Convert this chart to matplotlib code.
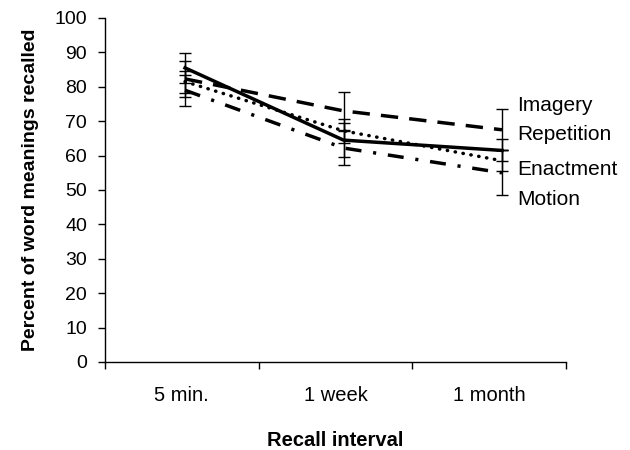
import matplotlib
matplotlib.use("Agg")
import matplotlib.pyplot as plt
from matplotlib.transforms import blended_transform_factory

plt.rcParams['font.family'] = ['Liberation Sans', 'DejaVu Sans']

categories = ["5 min.", "1 week", "1 month"]
series_names = ["Imagery", "Repetition", "Enactment", "Motion"]
imagery = [82.3, 73.0, 67.5]
imagery_err = [5.3, 5.6, 6.0]
repetition = [81.5, 67.2, 58.5]
repetition_err = [3.2, 3.5, 3.0]
enactment = [85.5, 64.5, 61.5]
enactment_err = [4.3, 5.0, 3.2]
motion = [79.0, 62.2, 55.0]
motion_err = [4.5, 5.0, 6.5]
label_y = [74.5, 66.2, 56, 47.3]

fig = plt.figure(figsize=(6.3, 4.5), dpi=100)
ax = fig.add_axes([0.1667, 0.1956, 0.7317, 0.7644])

x = list(range(len(categories)))

# axis with category labels
ax.set_xlim(-0.5, 2.5)
ax.set_ylim(0, 100)
ax.set_yticks(range(0, 101, 10))
ax.set_xticks([-0.5, 0.5, 1.5, 2.5])
ax.set_xticklabels([])
ax.set_xticks(x, minor=True)
ax.set_xticklabels(categories, minor=True)
ax.tick_params(axis='x', which='minor', length=0, pad=17, labelsize=14.5)
ax.tick_params(axis='x', which='major', length=5, width=1, direction='out')
ax.tick_params(axis='y', length=5, width=1, direction='out', labelsize=14, pad=8)
for s in ['top', 'right']:
    ax.spines[s].set_visible(False)
for s in ['left', 'bottom']:
    ax.spines[s].set_linewidth(1)

# data drawn on a twin x scale (points sit slightly right of label centres, as in the reference)
ax2 = ax.twiny()
ax2.set_xlim(-0.505, 2.404)
ax2.set_ylim(0, 100)
ax2.axis('off')

styles = [
    dict(linestyle=(0, (5.0, 3.2))),
    dict(linestyle=(0, (0.1, 2.2)), dash_capstyle='round'),
    dict(linestyle='-'),
    dict(linestyle=(0, (4.6, 3.4, 0.9, 3.4))),
]
data = [(imagery, imagery_err), (repetition, repetition_err),
        (enactment, enactment_err), (motion, motion_err)]
for (vals, errs), st in zip(data, styles):
    ax2.errorbar(x, vals, yerr=errs, color='black', lw=2.5, elinewidth=1.0,
                 capsize=4, capthick=1.0, **st)

trans = blended_transform_factory(ax.transAxes, ax.transData)
for name, yv in zip(series_names, label_y):
    ax.text(0.894, yv, name, transform=trans, fontsize=15, va='center', ha='left',
            clip_on=False)

ax.set_xlabel("Recall interval", fontsize=14.5, fontweight='bold', labelpad=19)
ax.set_ylabel("Percent of word meanings recalled", fontsize=14, fontweight='bold', labelpad=11)

fig.savefig("out.png", dpi=100)
